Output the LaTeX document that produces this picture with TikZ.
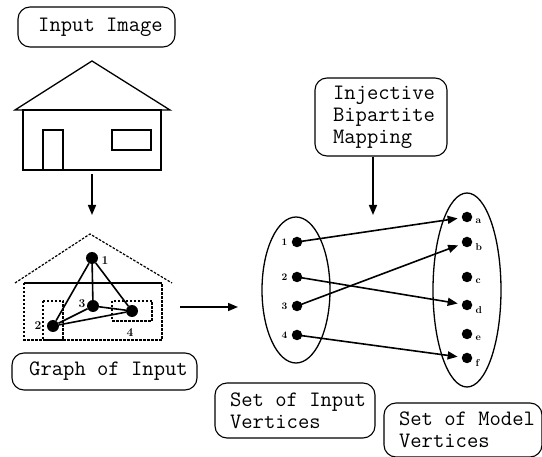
\documentclass[tikz,border=0pt]{standalone}
\usetikzlibrary{arrows.meta}
\begin{document}
\begin{tikzpicture}[x=1pt,y=-1pt,
  txt/.style={font=\ttfamily\fontsize{22}{22}\selectfont},
  tagbox/.style={txt,draw,line width=1.1pt,rounded corners=12pt,inner xsep=0pt,inner ysep=0pt},
  arr/.style={line width=1.6pt,-{Triangle[length=10pt,width=8pt]}},
  edge/.style={line width=1.6pt},
  gdot/.style={circle,fill,inner sep=0pt,minimum size=12pt},
  sdot/.style={circle,fill,inner sep=0pt,minimum size=10.5pt},
  glab/.style={font=\bfseries\fontsize{12}{12}\selectfont,inner sep=0pt},
  slab/.style={font=\bfseries\fontsize{10}{10}\selectfont,inner sep=0pt},
  dashline/.style={line width=1.2pt,dash pattern=on 2.5pt off 1.5pt}]
\useasboundingbox (0,0) rectangle (542,457);

% caption boxes
\node[tagbox,minimum width=157pt,minimum height=40pt] (inimg) at (96.5,27) {\hspace*{8pt}Input Image};
\node[tagbox,minimum width=185pt,minimum height=37pt] (gcap) at (104.5,371.5) {\hspace*{8pt}Graph of Input};
\node[tagbox,minimum width=132pt,minimum height=78pt,align=left] (inj) at (381,117)
  {\hspace*{6pt}Injective\\\hspace*{6pt}Bipartite\\\hspace*{6pt}Mapping};
\node[tagbox,minimum width=160pt,minimum height=55pt,align=left] (setin) at (295,410.5)
  {\hspace*{6pt}Set of Input\\\hspace*{6pt}Vertices};
\node[tagbox,minimum width=158pt,minimum height=54pt,align=left] (setmod) at (463,430)
  {\hspace*{8pt}Set of Model\\\hspace*{8pt}Vertices};

% house drawing
\draw[line width=1.3pt] (15,110) -- (92,61) -- (170,110) -- cycle;
\draw[line width=1.3pt] (23,110) rectangle (161,170);
\draw[line width=1.3pt] (43,130) rectangle (63,170);
\draw[line width=1.3pt] (112,130) rectangle (151,150);
\coordinate (hbot) at (92,174);
\coordinate (gtop) at (92,215);
\draw[arr] (hbot) -- (gtop);

% graph of the input image
\draw[dashline] (15,283) -- (90,234) -- (172,283);
\draw[dashline] (24,283) -- (24,340) -- (162,340) -- (162,283);
\draw[line width=1.3pt] (24,283) -- (162,283);
\draw[dashline] (43,301) rectangle (63,340);
\draw[dashline] (112,301) rectangle (152,321);
\node[gdot] (g1) at (92,258) {};
\node[gdot] (g3) at (93,306) {};
\node[gdot] (g4) at (132,311) {};
\node[gdot] (g2) at (53,326) {};
\node[glab] (l1) at (105,261) {1};
\node[glab] (l3) at (82,304) {3};
\node[glab] (l2) at (38,326) {2};
\node[glab] (l4) at (130,333) {4};
\draw[edge] (g1) -- (g3);
\draw[edge] (g1) -- (g4);
\draw[edge] (g1) -- (g2);
\draw[edge] (g2) -- (g3);
\draw[edge] (g2) -- (g4);
\draw[edge] (g3) -- (g4);

\coordinate (gout) at (180,307);
\coordinate (sin) at (238,307);
\draw[arr] (gout) -- (sin);

% the two vertex sets
\draw[line width=1.3pt] (296,290) ellipse [x radius=34, y radius=73];
\draw[line width=1.3pt] (467,290) ellipse [x radius=34, y radius=97];

\node[sdot,label={[slab,label distance=4pt]182:1}] (L1) at (297,242) {};
\node[sdot,label={[slab,label distance=4pt]182:2}] (L2) at (297,277) {};
\node[sdot,label={[slab,label distance=4pt]182:3}] (L3) at (297,306) {};
\node[sdot,label={[slab,label distance=4pt]182:4}] (L4) at (297,335) {};

\node[sdot,label={[slab,label distance=3pt]-10:a}] (Ra) at (467,217) {};
\node[sdot,label={[slab,label distance=3pt]-10:b}] (Rb) at (467,242) {};
\node[sdot,label={[slab,label distance=3pt]-10:c}] (Rc) at (467,277) {};
\node[sdot,label={[slab,label distance=3pt]-10:d}] (Rd) at (467,305) {};
\node[sdot,label={[slab,label distance=3pt]-10:e}] (Re) at (467,334) {};
\node[sdot,label={[slab,label distance=3pt]-10:f}] (Rf) at (467,358) {};

\draw[arr,shorten >=4pt] (L1.center) -- (Ra);
\draw[arr,shorten >=4pt] (L3.center) -- (Rb);
\draw[arr,shorten >=4pt] (L2.center) -- (Rd);
\draw[arr,shorten >=4pt] (L4.center) -- (Rf);

\coordinate (mapend) at (373,215);
\draw[arr] (inj.south -| mapend) -- (mapend);
\end{tikzpicture}
\end{document}
